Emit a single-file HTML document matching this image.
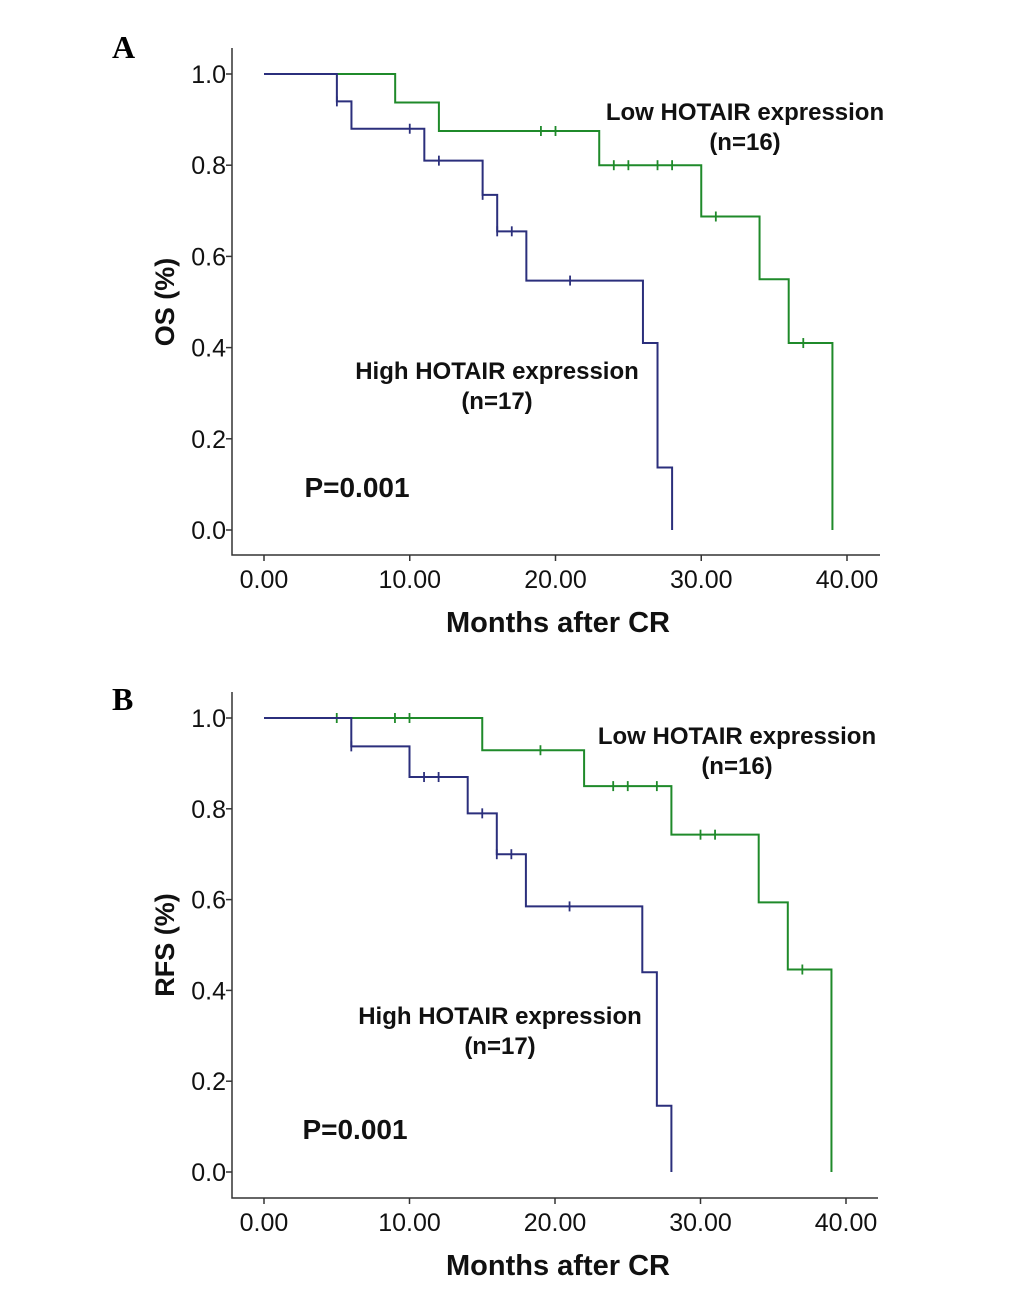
<!DOCTYPE html>
<html><head><meta charset="utf-8"><style>
body{margin:0;background:#fff;width:1033px;height:1305px;overflow:hidden}
svg{display:block}
</style></head><body>
<svg id="svg" width="1033" height="1305" xmlns="http://www.w3.org/2000/svg"></svg>
<script>
// Panel A (OS)
const aLowTimes = [0, 9, 12, 23, 30, 34, 36, 39];
const aLowSurv = [1.0, 0.9375, 0.875, 0.80, 0.6875, 0.55, 0.41, 0.0];
const aLowCens = [19, 20, 24, 25, 27, 28, 31, 37];
const aHighTimes = [0, 5, 6, 11, 15, 16, 18, 26, 27, 28];
const aHighSurv = [1.0, 0.94, 0.88, 0.81, 0.735, 0.655, 0.547, 0.41, 0.137, 0.0];
const aHighCens = [5, 10, 12, 15, 16, 17, 21];
// Panel B (RFS)
const bLowTimes = [0, 15, 22, 28, 34, 36, 39];
const bLowSurv = [1.0, 0.929, 0.85, 0.743, 0.594, 0.446, 0.0];
const bLowCens = [5, 9, 10, 19, 24, 25, 27, 30, 31, 37];
const bHighTimes = [0, 6, 10, 14, 16, 18, 26, 27, 28];
const bHighSurv = [1.0, 0.9375, 0.87, 0.79, 0.70, 0.585, 0.44, 0.146, 0.0];
const bHighCens = [6, 11, 12, 15, 16, 17, 21];
const xTicks = [0, 10, 20, 30, 40];
const xTickLabels = ["0.00", "10.00", "20.00", "30.00", "40.00"];
const yTicks = [0, 0.2, 0.4, 0.6, 0.8, 1.0];
const yTickLabels = ["0.0", "0.2", "0.4", "0.6", "0.8", "1.0"];

const NS = "http://www.w3.org/2000/svg";
const svg = document.getElementById('svg');
function mk(tag, attrs, parent, text){
  const e = document.createElementNS(NS, tag);
  for (const k in attrs) e.setAttribute(k, attrs[k]);
  if (text !== undefined) e.textContent = text;
  (parent || svg).appendChild(e);
  return e;
}
const GREEN = "#1f8a2a", BLUE = "#2b2f7c";

function panel(cfg){
  const g = mk('g', {});
  
  
  const xs = t => cfg.x0 + t * (cfg.x40 - cfg.x0) / 40;
  const ys = v => cfg.y0 - v * (cfg.y0 - cfg.y1);
  const ax = mk('path', {d: `M${cfg.axL} ${cfg.axTop} V${cfg.axB} H${cfg.axR}`, fill: 'none', stroke: '#333', 'stroke-width': 1.5}, g);
  
  
  yTicks.forEach((v, i) => {
    mk('line', {x1: cfg.axL - 6, x2: cfg.axL, y1: ys(v), y2: ys(v), stroke: '#333', 'stroke-width': 1.5}, g);
    const t = mk('text', {x: cfg.axL - 6, y: ys(v) + 9, 'text-anchor': 'end', 'font-size': 25, 'font-family': 'Liberation Sans, sans-serif', fill: '#111'}, g, yTickLabels[i]);
    
    
  });
  xTicks.forEach((v, i) => {
    mk('line', {x1: xs(v), x2: xs(v), y1: cfg.axB, y2: cfg.axB + 6, stroke: '#333', 'stroke-width': 1.5}, g);
    const t = mk('text', {x: xs(v), y: cfg.axB + 33, 'text-anchor': 'middle', 'font-size': 25, 'font-family': 'Liberation Sans, sans-serif', fill: '#111'}, g, xTickLabels[i]);
    
    
  });
  const xt = mk('text', {x: 558, y: cfg.axB + 77, 'text-anchor': 'middle', 'font-size': 29, 'font-weight': 'bold', 'font-family': 'Liberation Sans, sans-serif', fill: '#111'}, g, 'Months after CR');
  
  
  const yc = (cfg.y0 + cfg.y1) / 2;
  const yt = mk('text', {x: 174, y: yc, transform: `rotate(-90 174 ${yc})`, 'text-anchor': 'middle', 'font-size': 27, 'font-weight': 'bold', 'font-family': 'Liberation Sans, sans-serif', fill: '#111'}, g, cfg.ylab);
  
  
  const lt = mk('text', {x: 112, y: cfg.letterY, 'font-size': 32, 'font-weight': 'bold', 'font-family': 'Liberation Serif, serif', fill: '#000'}, g, cfg.letter);
  
  

  function curve(times, surv, cens, color, nm){
    let d = `M${xs(times[0])} ${ys(surv[0])}`;
    for (let i = 1; i < times.length; i++){
      d += ` H${xs(times[i])} V${ys(surv[i])}`;
    }
    const p = mk('path', {d, fill: 'none', stroke: color, 'stroke-width': 2}, g);
    
    
    cens.forEach(c => {
      let v = surv[0];
      for (let i = 0; i < times.length; i++) if (times[i] <= c) v = surv[i];
      const m = mk('line', {x1: xs(c), x2: xs(c), y1: ys(v) - 5, y2: ys(v) + 5, stroke: color, 'stroke-width': 1.8}, g);
      
      
    });
  }
  curve(cfg.lowT, cfg.lowS, cfg.lowC, GREEN, 'low-hotair');
  curve(cfg.highT, cfg.highS, cfg.highC, BLUE, 'high-hotair');

  const f = {'font-size': 24, 'font-weight': 'bold', 'font-family': 'Liberation Sans, sans-serif', fill: '#111', 'text-anchor': 'middle'};
  [[cfg.lowLab[0], cfg.lowLab[1], 'Low HOTAIR expression', 'low-label', 24],
   [cfg.lowLab[0], cfg.lowLab[1] + 30, '(n=16)', 'low-n-label', 24],
   [cfg.highLab[0], cfg.highLab[1], 'High HOTAIR expression', 'high-label', 24],
   [cfg.highLab[0], cfg.highLab[1] + 30, '(n=17)', 'high-n-label', 24],
   [cfg.pLab[0], cfg.pLab[1], 'P=0.001', 'p-value', 28]].forEach(a => {
    const t = mk('text', Object.assign({}, f, {x: a[0], y: a[1], 'font-size': a[4]}), g, a[2]);
    
    
  });
}

panel({name: 'panel-a-os', letter: 'A', letterY: 58, ylab: 'OS (%)',
  x0: 264, x40: 847, y0: 530, y1: 74, axL: 232, axR: 880, axB: 555, axTop: 48,
  lowT: aLowTimes, lowS: aLowSurv, lowC: aLowCens,
  highT: aHighTimes, highS: aHighSurv, highC: aHighCens,
  lowLab: [745, 120], highLab: [497, 379], pLab: [357, 497]});
panel({name: 'panel-b-rfs', letter: 'B', letterY: 710, ylab: 'RFS (%)',
  x0: 264, x40: 846, y0: 1172, y1: 718, axL: 232, axR: 878, axB: 1198, axTop: 692,
  lowT: bLowTimes, lowS: bLowSurv, lowC: bLowCens,
  highT: bHighTimes, highS: bHighSurv, highC: bHighCens,
  lowLab: [737, 744], highLab: [500, 1024], pLab: [355, 1139]});
</script>
</body></html>
